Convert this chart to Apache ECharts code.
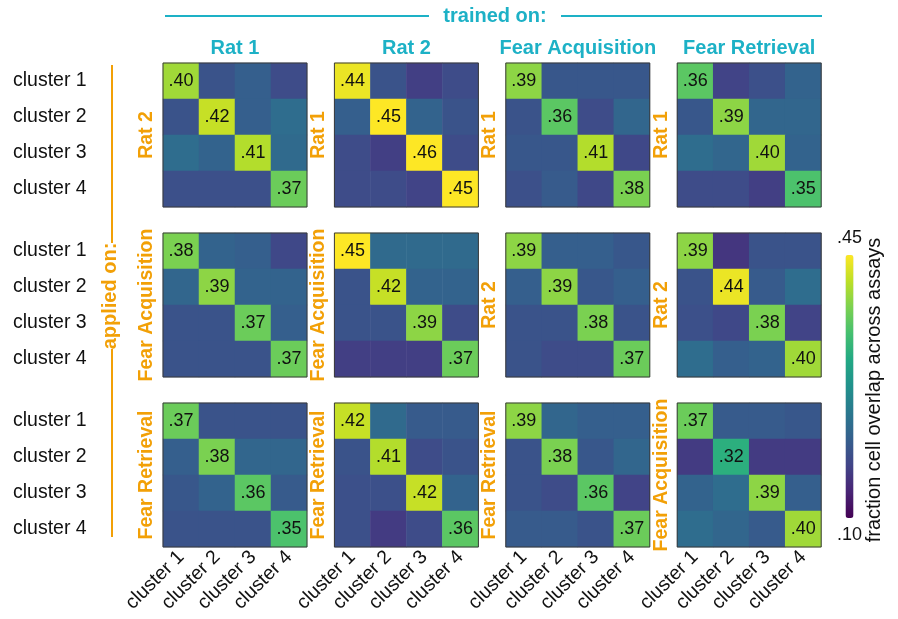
<!DOCTYPE html>
<html>
<head>
<meta charset="utf-8">
<script src="https://cdn.jsdelivr.net/npm/echarts@6/dist/echarts.min.js"></script>
<style>
  html, body { margin: 0; padding: 0; background: #ffffff; }
  #chart { width: 898px; height: 619px; }
</style>
</head>
<body>
<div id="chart"></div>
<script>
// Cluster categories shared by every panel axis
const clusters = ['cluster 1', 'cluster 2', 'cluster 3', 'cluster 4'];

// Column headers: assay the model was trained on
const trainedOn = ['Rat 1', 'Rat 2', 'Fear Acquisition', 'Fear Retrieval'];

// Row labels inside each column: assay the model was applied on
const appliedOn = [
  ['Rat 2', 'Rat 1', 'Rat 1', 'Rat 1'],
  ['Fear Acquisition', 'Fear Acquisition', 'Rat 2', 'Rat 2'],
  ['Fear Retrieval', 'Fear Retrieval', 'Fear Retrieval', 'Fear Acquisition']
];

// Overlap matrices: rows = applied-on clusters, columns = trained-on clusters
const rat1OnRat2 = [[0.40, 0.19, 0.205, 0.18], [0.19, 0.42, 0.205, 0.225], [0.225, 0.21, 0.41, 0.22], [0.185, 0.185, 0.185, 0.37]];
const rat2OnRat1 = [[0.44, 0.19, 0.165, 0.18], [0.205, 0.45, 0.21, 0.19], [0.18, 0.165, 0.46, 0.18], [0.18, 0.18, 0.17, 0.45]];
const acqOnRat1 = [[0.39, 0.195, 0.195, 0.195], [0.19, 0.36, 0.18, 0.215], [0.195, 0.195, 0.41, 0.175], [0.185, 0.20, 0.175, 0.38]];
const retOnRat1 = [[0.36, 0.17, 0.185, 0.21], [0.195, 0.39, 0.215, 0.215], [0.225, 0.215, 0.40, 0.21], [0.18, 0.18, 0.165, 0.35]];

const rat1OnAcq = [[0.38, 0.21, 0.205, 0.175], [0.215, 0.39, 0.21, 0.21], [0.19, 0.19, 0.37, 0.205], [0.19, 0.19, 0.19, 0.37]];
const rat2OnAcq = [[0.45, 0.22, 0.22, 0.22], [0.19, 0.42, 0.21, 0.21], [0.19, 0.19, 0.39, 0.18], [0.165, 0.165, 0.165, 0.37]];
const acqOnRat2 = [[0.39, 0.205, 0.205, 0.195], [0.205, 0.39, 0.195, 0.205], [0.19, 0.19, 0.38, 0.19], [0.19, 0.18, 0.18, 0.37]];
const retOnRat2 = [[0.39, 0.155, 0.19, 0.19], [0.19, 0.44, 0.20, 0.225], [0.185, 0.175, 0.38, 0.17], [0.225, 0.205, 0.21, 0.40]];

const rat1OnRet = [[0.37, 0.19, 0.19, 0.19], [0.205, 0.38, 0.215, 0.215], [0.195, 0.21, 0.36, 0.20], [0.19, 0.19, 0.19, 0.35]];
const rat2OnRet = [[0.42, 0.22, 0.20, 0.20], [0.19, 0.41, 0.18, 0.19], [0.185, 0.185, 0.42, 0.21], [0.185, 0.16, 0.18, 0.36]];
const acqOnRet = [[0.39, 0.215, 0.205, 0.205], [0.19, 0.38, 0.195, 0.215], [0.19, 0.18, 0.36, 0.17], [0.20, 0.20, 0.19, 0.37]];
const retOnAcq = [[0.37, 0.20, 0.20, 0.195], [0.16, 0.32, 0.16, 0.16], [0.21, 0.225, 0.39, 0.205], [0.225, 0.215, 0.20, 0.40]];

// Colour scale range and tick labels
const scaleMin = 0.10;
const scaleMax = 0.45;
const scaleLabels = ['.45', '.10'];
const scaleTitle = 'fraction cell overlap across assays';

const panelGrid = [
  [rat1OnRat2, rat2OnRat1, acqOnRat1, retOnRat1],
  [rat1OnAcq, rat2OnAcq, acqOnRat2, retOnRat2],
  [rat1OnRet, rat2OnRet, acqOnRet, retOnAcq]
];

// ---- layout ----
const FONT = '"Liberation Sans", Arial, Helvetica, sans-serif';
const TEAL = '#1db1c6';
const ORANGE = '#f2a007';
const LEFT0 = 163, COL_STEP = 171.4, TOP0 = 63, ROW_STEP = 170, SIZE = 144;

const viridis = ['#440154', '#482475', '#414487', '#355f8d', '#2a788e', '#21918c',
                 '#22a884', '#44bf70', '#7ad151', '#bddf26', '#fde725'];

const fmt = v => v.toFixed(2).replace(/^0/, '');

const grids = [], xAxes = [], yAxes = [], series = [], graphics = [];
let idx = 0;
for (let r = 0; r < panelGrid.length; r++) {
  for (let c = 0; c < panelGrid[r].length; c++) {
    const left = LEFT0 + c * COL_STEP;
    const top = TOP0 + r * ROW_STEP;
    grids.push({ left: left, top: top, width: SIZE, height: SIZE, containLabel: false, outerBoundsMode: 'none' });
    xAxes.push({
      type: 'category', gridIndex: idx, data: clusters,
      axisLine: { show: false }, axisTick: { show: false }, splitLine: { show: false },
      axisLabel: {
        show: r === panelGrid.length - 1, rotate: 45, margin: 7, interval: 0,
        hideOverlap: false,
        fontSize: 19.5, color: '#111', fontFamily: FONT
      }
    });
    yAxes.push({
      type: 'category', gridIndex: idx, data: clusters, inverse: true,
      axisLine: { show: false }, axisTick: { show: false }, splitLine: { show: false },
      axisLabel: {
        show: c === 0, align: 'left', margin: 150, interval: 0,
        fontSize: 19.5, color: '#111', fontFamily: FONT
      }
    });
    const m = panelGrid[r][c];
    const data = [];
    m.forEach((row, yi) => row.forEach((v, xi) => data.push([xi, yi, v])));
    series.push({
      type: 'heatmap', xAxisIndex: idx, yAxisIndex: idx, data: data,
      emphasis: { disabled: true },
      label: {
        show: true, fontSize: 18, color: '#111', fontFamily: FONT,
        formatter: p => (p.value[0] === p.value[1] ? fmt(p.value[2]) : '')
      }
    });
    // panel frame
    graphics.push({
      type: 'rect', z: 100, silent: true,
      shape: { x: left, y: top, width: SIZE, height: SIZE },
      style: { fill: 'none', stroke: '#3a3a3a', lineWidth: 1 }
    });
    // applied-on label for this panel
    graphics.push({
      type: 'text', z: 100, silent: true,
      x: left - 16, y: top + SIZE / 2, rotation: Math.PI / 2,
      style: {
        text: appliedOn[r][c], fill: ORANGE, font: 'bold 19.5px ' + FONT,
        align: 'center', verticalAlign: 'middle'
      }
    });
    idx++;
  }
}

// column headers
trainedOn.forEach((name, c) => {
  graphics.push({
    type: 'text', silent: true,
    x: LEFT0 + c * COL_STEP + SIZE / 2, y: 48,
    style: { text: name, fill: TEAL, font: 'bold 20px ' + FONT, align: 'center', verticalAlign: 'middle' }
  });
});

// "trained on:" banner
graphics.push(
  { type: 'line', silent: true, shape: { x1: 165, y1: 16, x2: 429, y2: 16 }, style: { stroke: TEAL, lineWidth: 2 } },
  { type: 'line', silent: true, shape: { x1: 561, y1: 16, x2: 822, y2: 16 }, style: { stroke: TEAL, lineWidth: 2 } },
  { type: 'text', silent: true, x: 495, y: 16,
    style: { text: 'trained on:', fill: TEAL, font: 'bold 20px ' + FONT, align: 'center', verticalAlign: 'middle' } }
);

// "applied on:" banner
graphics.push(
  { type: 'line', silent: true, shape: { x1: 112, y1: 65, x2: 112, y2: 243 }, style: { stroke: ORANGE, lineWidth: 2 } },
  { type: 'line', silent: true, shape: { x1: 112, y1: 349, x2: 112, y2: 537 }, style: { stroke: ORANGE, lineWidth: 2 } },
  { type: 'text', silent: true, x: 110, y: 296, rotation: Math.PI / 2,
    style: { text: 'applied on:', fill: ORANGE, font: 'bold 20px ' + FONT, align: 'center', verticalAlign: 'middle' } }
);

// colour bar title
graphics.push({
  type: 'text', silent: true, x: 874, y: 390, rotation: Math.PI / 2,
  style: { text: scaleTitle, fill: '#111', font: '20px ' + FONT, align: 'center', verticalAlign: 'middle' }
});

const chart = echarts.init(document.getElementById('chart'), null, { renderer: 'canvas' });
chart.setOption({
  backgroundColor: '#ffffff',
  animation: false,
  textStyle: { fontFamily: FONT },
  grid: grids,
  xAxis: xAxes,
  yAxis: yAxes,
  visualMap: {
    type: 'continuous', min: scaleMin, max: scaleMax,
    seriesIndex: series.map((s, i) => i),
    calculable: false, orient: 'vertical',
    left: 837, top: 229, padding: 0,
    itemWidth: 8, itemHeight: 263, textGap: 8,
    text: scaleLabels,
    textStyle: { fontSize: 18, color: '#111', fontFamily: FONT },
    inRange: { color: viridis }
  },
  series: series,
  graphic: graphics
});
</script>
</body>
</html>
